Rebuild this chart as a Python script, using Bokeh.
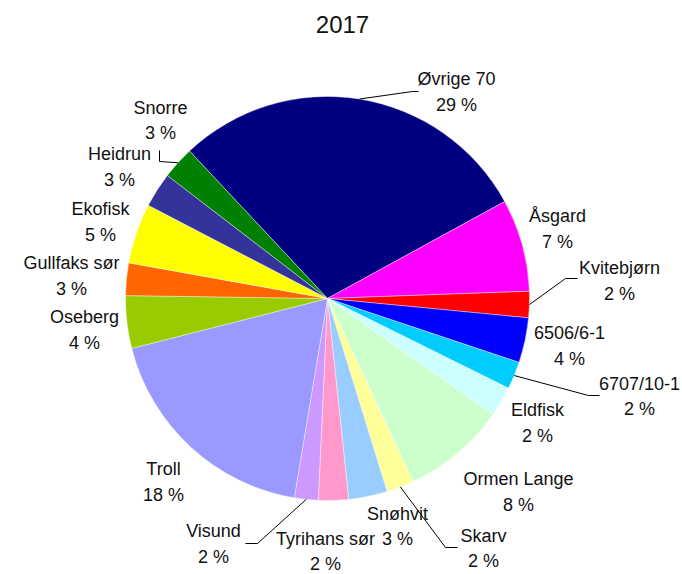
import math
from bokeh.plotting import figure
from bokeh.models import Range1d, ColumnDataSource
from bokeh.core.properties import value
from bokeh.embed import file_html
from bokeh.resources import INLINE

# ---------------- data ----------------
title_text = "2017"
fields = ["Øvrige 70", "Åsgard", "Kvitebjørn", "6506/6-1", "6707/10-1", "Eldfisk",
          "Ormen Lange", "Skarv", "Snøhvit", "Tyrihans sør", "Visund", "Troll",
          "Oseberg", "Gullfaks sør", "Ekofisk", "Heidrun", "Snorre"]
shares = [29.0, 7.4, 2.1, 3.6, 2.2, 2.4, 8.3, 2.2, 3.1, 2.4, 1.9, 18.4,
          4.2, 2.6, 4.8, 2.8, 2.6]
colors = ["#000080", "#FF00FF", "#FF0000", "#0000FF", "#00CCFF", "#CCFFFF",
          "#CCFFCC", "#FFFF99", "#99CCFF", "#FF99CC", "#CC99FF", "#9999FF",
          "#99CC00", "#FF6600", "#FFFF00", "#333399", "#008000"]

# ---------------- layout ----------------
W, H = 682, 574
FONT = "Liberation Sans"
CX, CY, R = 327, 298, 202          # pie centre / radius in reference pixels
START_DEG = 316.9                   # clockwise from 12 o'clock

# label layout: name -> (centre x, name y, percent y, leader points after the edge point)
label_layout = {
    "Øvrige 70":   (456, 78, 104, [(412, 91), (418, 91)]),
    "Åsgard":      (557, 215, 241, None),
    "Kvitebjørn":  (619, 267, 293, [(565, 278), (577, 278)]),
    "6506/6-1":    (569, 332, 358, None),
    "6707/10-1":   (639, 383, 408, [(588, 395), (599, 395)]),
    "Eldfisk":     (537, 409, 435, None),
    "Ormen Lange": (518, 478, 504, None),
    "Skarv":       (483, 535, 560, [(445, 547), (457, 547)]),
    "Snøhvit":     (397, 513, 538, None),
    "Tyrihans sør": (325, 538, 563, None),
    "Visund":      (213, 530, 556, [(257, 543), (245, 543)]),
    "Troll":       (163, 468, 494, None),
    "Oseberg":     (84, 316, 342, None),
    "Gullfaks sør": (71, 262, 288, None),
    "Ekofisk":     (100, 208, 234, None),
    "Heidrun":     (119, 153, 179, None),
    "Snorre":      (160, 107, 132, [(159, 161), (159, 150)]),
}


def Y(y):
    return H - y


total = sum(shares)
cum = START_DEG
starts, ends, mids = [], [], []
for v in shares:
    a1 = cum
    a2 = cum + 360.0 * v / total
    # bokeh: anticlockwise from +x axis
    starts.append(math.radians(90 - a2))
    ends.append(math.radians(90 - a1))
    mids.append((a1 + a2) / 2)
    cum = a2

p = figure(width=W, height=H, output_backend="svg", toolbar_location=None,
           x_range=Range1d(0, W), y_range=Range1d(0, H),
           x_axis_type=None, y_axis_type=None, min_border=0,
           outline_line_color=None, background_fill_color="white",
           border_fill_color="white")
p.grid.visible = False

src = ColumnDataSource(dict(start=starts, end=ends, color=colors, name=fields))
p.wedge(x=CX, y=Y(CY), radius=R, start_angle="start", end_angle="end",
        fill_color="color", line_color="white", line_width=0.4, source=src)

# labels
nx, ny, px, py, ptxt, ntxt = [], [], [], [], [], []
lxs, lys = [], []
for name, v, m in zip(fields, shares, mids):
    cxl, yn, yp, leader = label_layout[name]
    nx.append(cxl); ny.append(Y(yn)); ntxt.append(name)
    px.append(cxl); py.append(Y(yp)); ptxt.append(f"{round(100 * v / total)} %")
    if leader:
        ex = CX + R * math.sin(math.radians(m))
        ey = CY - R * math.cos(math.radians(m))
        pts = [(ex, ey)] + leader
        lxs.append([q[0] for q in pts])
        lys.append([Y(q[1]) for q in pts])

p.multi_line(xs=lxs, ys=lys, line_color="black", line_width=1)

p.text(x=nx, y=ny, text=ntxt, text_align="center", text_baseline="middle",
       text_font=value(FONT), text_font_size="18px", text_color="#111111")
p.text(x=px, y=py, text=ptxt, text_align="center", text_baseline="middle",
       text_font=value(FONT), text_font_size="18px", text_color="#111111")

p.text(x=[342], y=[Y(24)], text=[title_text], text_align="center",
       text_baseline="middle", text_font=value(FONT), text_font_size="24px",
       text_color="#111111")

open("out.html", "w").write(file_html(p, INLINE))
